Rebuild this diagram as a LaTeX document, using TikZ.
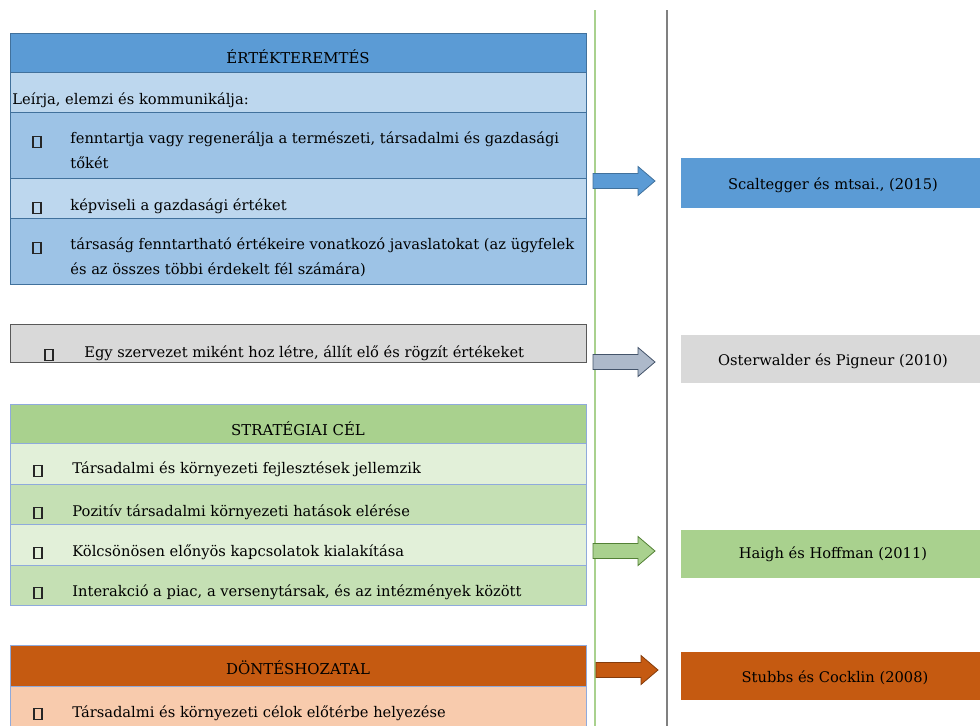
\documentclass[tikz,border=0pt]{standalone}
\usepackage{fontspec}
\setmainfont{DejaVu Serif}

\definecolor{bluehead}{HTML}{5B9BD5}
\definecolor{bluelight}{HTML}{BDD7EE}
\definecolor{bluemid}{HTML}{9DC3E6}
\definecolor{blueline}{HTML}{41719C}
\definecolor{greenhead}{HTML}{A9D18E}
\definecolor{greenlight}{HTML}{E2F0D9}
\definecolor{greenmid}{HTML}{C5E0B4}
\definecolor{greenline}{HTML}{538135}
\definecolor{grayfill}{HTML}{D9D9D9}
\definecolor{grayline}{HTML}{595959}
\definecolor{arrgray}{HTML}{ADB9CA}
\definecolor{arrgrayline}{HTML}{44546A}
\definecolor{orangehead}{HTML}{C55A11}
\definecolor{orangelight}{HTML}{F8CBAD}
\definecolor{orangeline}{HTML}{843C0C}
\definecolor{rowline}{HTML}{8FAADC}

\begin{document}
\begin{tikzpicture}[x=0.75pt,y=-0.75pt,line width=0.6pt,
  txt/.style={anchor=base west,inner sep=0pt,font=\fontsize{11}{18.75}\selectfont},
  hd/.style={anchor=base,inner sep=0pt,font=\fontsize{11.2}{12}\selectfont},
  bul/.style={draw=black!85,line width=0.8pt,minimum width=6pt,minimum height=8pt,inner sep=0pt,anchor=south},
  src/.style={anchor=base,inner sep=0pt,font=\fontsize{11}{12}\selectfont}]
  \clip (0,0) rectangle (980,725);
  % dividers
  \draw[greenhead,line width=1.6pt] (595,10) -- (595,730);
  \draw[black!50,line width=1.6pt] (667,10) -- (667,730);
  % ertekteremtes
  \filldraw[fill=bluehead,draw=blueline] (10,33) rectangle (586,72);
  \filldraw[fill=bluelight,draw=blueline] (10,72) rectangle (586,112);
  \filldraw[fill=bluemid,draw=blueline] (10,112) rectangle (586,178);
  \filldraw[fill=bluelight,draw=blueline] (10,178) rectangle (586,218);
  \filldraw[fill=bluemid,draw=blueline] (10,218) rectangle (586,284);
  \node[hd] (h1) at (298,63) {ÉRTÉKTEREMTÉS};
  \node[txt] (t10) at (12,104) {Leírja, elemzi és kommunikálja:};
  \node[bul] (b11) at (37,148) {}; \node[txt,align=left] (t11) at (70,168) {fenntartja vagy regenerálja a természeti, társadalmi és gazdasági\\tőkét};
  \node[bul] (b12) at (37,214) {}; \node[txt] (t12) at (70,210) {képviseli a gazdasági értéket};
  \node[bul] (b13) at (37,254) {}; \node[txt,align=left] (t13) at (70,274) {társaság fenntartható értékeire vonatkozó javaslatokat (az ügyfelek\\és az összes többi érdekelt fél számára)};
  % szervezet
  \filldraw[fill=grayfill,draw=grayline] (10,324) rectangle (586,362);
  \node[bul] (b21) at (49,361) {}; \node[txt] (t21) at (84,357) {Egy szervezet miként hoz létre, állít elő és rögzít értékeket};
  % strategiai cel
  \filldraw[fill=greenhead,draw=rowline] (10,404) rectangle (586,443);
  \filldraw[fill=greenlight,draw=rowline] (10,443) rectangle (586,484);
  \filldraw[fill=greenmid,draw=rowline] (10,484) rectangle (586,524);
  \filldraw[fill=greenlight,draw=rowline] (10,524) rectangle (586,565);
  \filldraw[fill=greenmid,draw=rowline] (10,565) rectangle (586,605);
  \node[hd] (h3) at (298,435) {STRATÉGIAI CÉL};
  \node[bul] (b31) at (38,477) {}; \node[txt] (t31) at (72,473) {Társadalmi és környezeti fejlesztések jellemzik};
  \node[bul] (b32) at (38,519) {}; \node[txt] (t32) at (72,516) {Pozitív társadalmi környezeti hatások elérése};
  \node[bul] (b33) at (38,559) {}; \node[txt] (t33) at (72,556) {Kölcsönösen előnyös kapcsolatok kialakítása};
  \node[bul] (b34) at (38,599) {}; \node[txt] (t34) at (72,596) {Interakció a piac, a versenytársak, és az intézmények között};
  % donteshozatal
  \filldraw[fill=orangehead,draw=rowline] (10,645) rectangle (586,686);
  \filldraw[fill=orangelight,draw=rowline] (10,686) rectangle (586,735);
  \node[hd] (h4) at (298,674) {DÖNTÉSHOZATAL};
  \node[bul] (b41) at (38,720) {}; \node[txt] (t41) at (72,717) {Társadalmi és környezeti célok előtérbe helyezése};
  % nyilak
  \filldraw[fill=bluehead,draw=blueline,shift={(593,181)}] (0,-7.5) -- (45,-7.5) -- (45,-14.5) -- (62,0) -- (45,14.5) -- (45,7.5) -- (0,7.5) -- cycle;
  \filldraw[fill=arrgray,draw=arrgrayline,shift={(593,362)}] (0,-7.5) -- (45,-7.5) -- (45,-14.5) -- (62,0) -- (45,14.5) -- (45,7.5) -- (0,7.5) -- cycle;
  \filldraw[fill=greenhead,draw=greenline,shift={(593,551)}] (0,-7.5) -- (45,-7.5) -- (45,-14.5) -- (62,0) -- (45,14.5) -- (45,7.5) -- (0,7.5) -- cycle;
  \filldraw[fill=orangehead,draw=orangeline,shift={(596,670)}] (0,-7.5) -- (45,-7.5) -- (45,-14.5) -- (62,0) -- (45,14.5) -- (45,7.5) -- (0,7.5) -- cycle;
  % szerzok
  \fill[bluehead] (681,158) rectangle (980,208);
  \node[src] (s1) at (833,189) {Scaltegger és mtsai., (2015)};
  \fill[grayfill] (681,335) rectangle (980,383);
  \node[src] (s2) at (833,365) {Osterwalder és Pigneur (2010)};
  \fill[greenhead] (681,530) rectangle (980,578);
  \node[src] (s3) at (833,558) {Haigh és Hoffman (2011)};
  \fill[orangehead] (681,652) rectangle (980,700);
  \node[src] (s4) at (835,682) {Stubbs és Cocklin (2008)};
\end{tikzpicture}
\end{document}
